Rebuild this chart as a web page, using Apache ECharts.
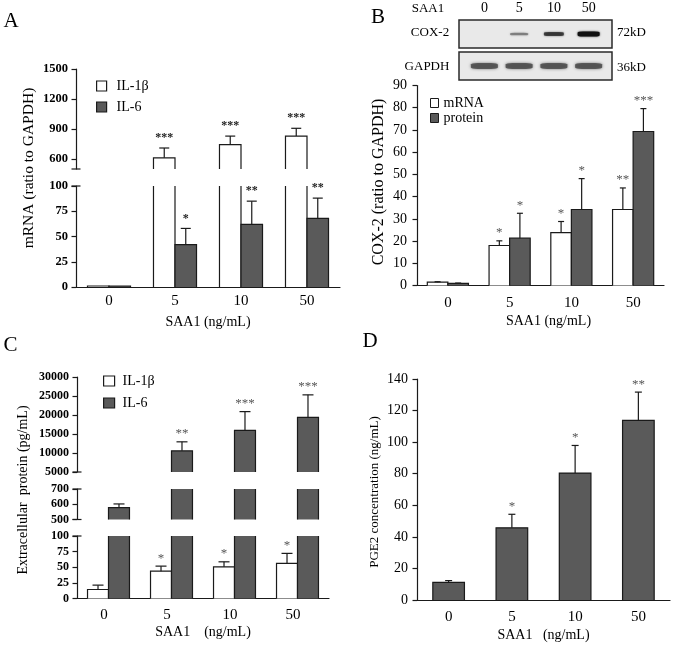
<!DOCTYPE html>
<html><head><meta charset="utf-8">
<script src="https://cdn.jsdelivr.net/npm/echarts@6/dist/echarts.min.js"></script>
<style>html,body{margin:0;padding:0;background:#fff}#c{width:675px;height:645px}</style>
</head><body><div id="c"></div>
<script>
// ---------- data ----------
const categories = ['0', '5', '10', '50'];
// Panel A: mRNA (ratio to GAPDH)
const aIL1b = [1, 612, 743, 829];
const aIL1bSD = [0, 98, 86, 78];
const aIL1bSig = ['', '***', '***', '***'];
const aIL6 = [1, 42, 62, 68];
const aIL6SD = [0, 16, 23, 20];
const aIL6Sig = ['', '*', '**', '**'];
// Panel B: COX-2 (ratio to GAPDH)
const bMRNA = [1.5, 18, 23.8, 34.2];
const bMRNASD = [0.2, 2.1, 5, 9.7];
const bMRNASig = ['', '*', '*', '**'];
const bProtein = [1.0, 21.3, 34.2, 69.3];
const bProteinSD = [0.1, 11.2, 13.9, 10.3];
const bProteinSig = ['', '*', '*', '***'];
// Western blot band intensities
const cox2Band = [0, 0.35, 0.65, 1];
const gapdhBand = [0.85, 0.85, 0.85, 0.85];
// Panel C: extracellular protein (pg/mL)
const cIL1b = [14.4, 43.8, 50.7, 56.2];
const cIL1bSD = [7, 8, 8, 16];
const cIL1bSig = ['', '*', '*', '*'];
const cIL6 = [578, 10560, 15960, 19400];
const cIL6SD = [24, 2380, 4930, 5900];
const cIL6Sig = ['', '**', '***', '***'];
// Panel D: PGE2 concentration (ng/mL)
const dPGE2 = [11.2, 45.7, 80.4, 113.8];
const dPGE2SD = [1.1, 8.6, 17.5, 17.9];
const dPGE2Sig = ['', '*', '*', '**'];
// axis ticks
const aUpperTicks = [600, 900, 1200, 1500];

// ---------- style ----------
const FONT = "'Liberation Serif','Times New Roman',serif";
const WHITE = '#ffffff', DARK = '#5a5a5a', LINE = '#1a1a1a';

function makeBars(o) {
  return {
    type: 'custom', name: o.name, xAxisIndex: o.xi, yAxisIndex: o.yi,
    itemStyle: { color: o.fill, borderColor: LINE, borderWidth: 1 },
    data: o.vals.map((v, i) => [i, v, o.sds[i]]),
    renderItem: function (params, api) {
      const i = api.value(0), v = api.value(1), sd = api.value(2);
      const band = api.size([1, 0])[0];
      const bw = band * o.frac;
      const cx = api.coord([i, o.lo])[0];
      const xl = cx + (o.k - o.n / 2) * bw;
      const xc = xl + bw / 2;
      const ch = [];
      if (v > o.lo || o.lo === 0) {
        const vt = Math.min(v, o.hi);
        const yb = api.coord([i, o.lo])[1];
        const yt = api.coord([i, vt])[1];
        const st = { stroke: LINE, lineWidth: 1.2, fill: null };
        ch.push({ type: 'rect', shape: { x: xl, y: yt, width: bw, height: yb - yt }, style: { fill: o.fill } });
        if (v <= o.hi) {
          ch.push({ type: 'polyline', shape: { points: [[xl, yb], [xl, yt], [xl + bw, yt], [xl + bw, yb]] }, style: st });
        } else {
          ch.push({ type: 'line', shape: { x1: xl, y1: yb, x2: xl, y2: yt }, style: st });
          ch.push({ type: 'line', shape: { x1: xl + bw, y1: yb, x2: xl + bw, y2: yt }, style: st });
        }
        if (v <= o.hi && v >= o.lo && sd > 0) {
          const ye = api.coord([i, Math.min(v + sd, o.hi)])[1];
          ch.push({ type: 'line', shape: { x1: xc, y1: yt, x2: xc, y2: ye }, style: st });
          ch.push({ type: 'line', shape: { x1: xc - o.capW / 2, y1: ye, x2: xc + o.capW / 2, y2: ye }, style: st });
          if (o.sigs[i]) {
            ch.push({ type: 'text', x: xc, y: ye - o.starGap,
              style: { text: o.sigs[i], font: o.starFont, fill: o.starColor, align: 'center', verticalAlign: 'middle' } });
          }
        }
      }
      return { type: 'group', children: ch };
    }
  };
}

function makeBreaks(xi, yi, vals) {
  return {
    type: 'custom', xAxisIndex: xi, yAxisIndex: yi, silent: true,
    data: vals.map(v => [0, v]),
    renderItem: function (params, api) {
      const band = api.size([1, 0])[0];
      const p = api.coord([0, api.value(1)]);
      const x = p[0] - band / 2;
      return { type: 'line', shape: { x1: x - 4.5, y1: p[1], x2: x + 4.5, y2: p[1] }, style: { stroke: LINE, lineWidth: 1.2 } };
    }
  };
}

function xAx(gi, opts) {
  const o = Object.assign({ show: true, labels: true, margin: 8, name: '', nameGap: 28, pad: 0, labelPad: 0 }, opts || {});
  return {
    type: 'category', gridIndex: gi, data: categories, show: o.show,
    axisLine: { show: true, onZero: false, lineStyle: { color: LINE, width: 1.2 } },
    axisTick: { show: false },
    axisLabel: { show: o.labels, margin: o.margin, fontFamily: FONT, fontSize: 15, color: '#000', padding: o.labelPad },
    name: o.name, nameLocation: 'middle', nameGap: o.nameGap,
    nameTextStyle: { fontFamily: FONT, fontSize: 14, color: '#000', padding: o.pad }
  };
}
function yAx(gi, min, max, interval, o) {
  o = Object.assign({ bold: false, size: 14, margin: 9, custom: null }, o || {});
  const ax = {
    type: 'value', gridIndex: gi, min: min, max: max,
    axisLine: { show: true, lineStyle: { color: LINE, width: 1.2 } },
    axisTick: { show: true, length: 4.5, lineStyle: { color: LINE, width: 1.2 } },
    splitLine: { show: false },
    axisLabel: { margin: o.margin, fontFamily: FONT, fontSize: o.size, fontWeight: o.bold ? 'bold' : 'normal', color: '#000',
      formatter: function (v) { return String(v); } }
  };
  if (o.custom) {
    ax.axisLabel.customValues = o.custom;
    ax.axisTick.customValues = o.custom;
  } else {
    ax.interval = interval;
  }
  return ax;
}

const grids = [
  { left: 76, top: 69, width: 264, height: 100 },      // 0 A upper
  { left: 76, top: 186, width: 264, height: 101 },     // 1 A lower
  { left: 417, top: 85.5, width: 247, height: 200 },   // 2 B
  { left: 467, top: 20, width: 139, height: 28 },      // 3 blot COX-2
  { left: 467, top: 52, width: 139, height: 28 },      // 4 blot GAPDH
  { left: 77, top: 377, width: 252, height: 95 },      // 5 C top
  { left: 77, top: 489, width: 252, height: 30.5 },    // 6 C middle
  { left: 77, top: 536, width: 252, height: 62.5 },    // 7 C bottom
  { left: 417, top: 379, width: 253, height: 221 }     // 8 D
];

const xAxes = [
  xAx(0, { show: true, labels: false }),
  xAx(1, { margin: 7, name: 'SAA1 (ng/mL)', nameGap: 28 }),
  xAx(2, { margin: 10, name: 'SAA1 (ng/mL)', nameGap: 29, pad: [0, 0, 0, 16] }),
  { type: 'category', gridIndex: 3, data: categories, position: 'top',
    axisLine: { show: false }, axisTick: { show: false },
    axisLabel: { margin: 5, fontFamily: FONT, fontSize: 14, color: '#000' } },
  { type: 'category', gridIndex: 4, data: categories, show: false },
  xAx(5, { show: true, labels: false }),
  xAx(6, { show: true, labels: false }),
  xAx(7, { margin: 9, name: 'SAA1    (ng/mL)', nameGap: 27, labelPad: [0, 9, 0, 0] }),
  xAx(8, { margin: 10, name: 'SAA1   (ng/mL)', nameGap: 28 })
];
xAxes[0].axisLine.show = false; xAxes[5].axisLine.show = false; xAxes[6].axisLine.show = false;

const yAxes = [
  yAx(0, 500, 1500, null, { bold: true, size: 12.5, margin: 8, custom: aUpperTicks }),
  yAx(1, 0, 100, 25, { bold: true, size: 12.5, margin: 8 }),
  yAx(2, 0, 90, 10, { size: 14, margin: 10 }),
  { type: 'value', gridIndex: 3, min: -1, max: 1, show: false },
  { type: 'value', gridIndex: 4, min: -1, max: 1, show: false },
  yAx(5, 5000, 30000, 5000, { bold: true, size: 12, margin: 8 }),
  yAx(6, 500, 700, 100, { bold: true, size: 12, margin: 8 }),
  yAx(7, 0, 100, 25, { bold: true, size: 12, margin: 8 }),
  yAx(8, 0, 140, 20, { size: 14, margin: 9 })
];

const starA = { starFont: 'bold 12px ' + FONT, starColor: '#222', starGap: 10 };
const starB = { starFont: '13px ' + FONT, starColor: '#555', starGap: 8 };

const series = [
  // A
  makeBars(Object.assign({ name: 'IL-1β', xi: 0, yi: 0, vals: aIL1b, sds: aIL1bSD, sigs: aIL1bSig, k: 0, n: 2, frac: 0.326, lo: 500, hi: 1500, fill: WHITE, capW: 10 }, starA)),
  makeBars(Object.assign({ name: 'IL-6', xi: 0, yi: 0, vals: aIL6, sds: aIL6SD, sigs: aIL6Sig, k: 1, n: 2, frac: 0.326, lo: 500, hi: 1500, fill: DARK, capW: 10 }, starA)),
  makeBars(Object.assign({ name: 'IL-1β', xi: 1, yi: 1, vals: aIL1b, sds: aIL1bSD, sigs: aIL1bSig, k: 0, n: 2, frac: 0.326, lo: 0, hi: 100, fill: WHITE, capW: 10 }, starA)),
  makeBars(Object.assign({ name: 'IL-6', xi: 1, yi: 1, vals: aIL6, sds: aIL6SD, sigs: aIL6Sig, k: 1, n: 2, frac: 0.326, lo: 0, hi: 100, fill: DARK, capW: 10 }, starA)),
  makeBreaks(0, 0, [500]),
  makeBreaks(1, 1, [100]),
  // B
  makeBars(Object.assign({ name: 'mRNA', xi: 2, yi: 2, vals: bMRNA, sds: bMRNASD, sigs: bMRNASig, k: 0, n: 2, frac: 0.333, lo: 0, hi: 90, fill: WHITE, capW: 6 }, starB)),
  makeBars(Object.assign({ name: 'protein', xi: 2, yi: 2, vals: bProtein, sds: bProteinSD, sigs: bProteinSig, k: 1, n: 2, frac: 0.333, lo: 0, hi: 90, fill: DARK, capW: 6 }, starB)),
  // blot
  { type: 'scatter', xAxisIndex: 3, yAxisIndex: 3, silent: true, z: 5,
    data: cox2Band.map((a, i) => ({ value: [i, 0], symbolSize: [16 + 6 * a, 1.5 + 3.5 * a], itemStyle: { opacity: a } })),
    symbol: 'roundRect', itemStyle: { color: '#111', shadowBlur: 2, shadowColor: '#333' } },
  { type: 'scatter', xAxisIndex: 4, yAxisIndex: 4, silent: true, z: 5,
    data: gapdhBand.map((a, i) => ({ value: [i, 0], symbolSize: [27, 6], itemStyle: { opacity: a } })),
    symbol: 'roundRect', itemStyle: { color: '#4a4a4a', shadowBlur: 3, shadowColor: '#666' } },
  // C
  makeBars(Object.assign({ name: 'IL-1β', xi: 5, yi: 5, vals: cIL1b, sds: cIL1bSD, sigs: cIL1bSig, k: 0, n: 2, frac: 0.333, lo: 5000, hi: 30000, fill: WHITE, capW: 11 }, starB)),
  makeBars(Object.assign({ name: 'IL-6', xi: 5, yi: 5, vals: cIL6, sds: cIL6SD, sigs: cIL6Sig, k: 1, n: 2, frac: 0.333, lo: 5000, hi: 30000, fill: DARK, capW: 11 }, starB)),
  makeBars(Object.assign({ name: 'IL-1β', xi: 6, yi: 6, vals: cIL1b, sds: cIL1bSD, sigs: cIL1bSig, k: 0, n: 2, frac: 0.333, lo: 500, hi: 700, fill: WHITE, capW: 11 }, starB)),
  makeBars(Object.assign({ name: 'IL-6', xi: 6, yi: 6, vals: cIL6, sds: cIL6SD, sigs: cIL6Sig, k: 1, n: 2, frac: 0.333, lo: 500, hi: 700, fill: DARK, capW: 11 }, starB)),
  makeBars(Object.assign({ name: 'IL-1β', xi: 7, yi: 7, vals: cIL1b, sds: cIL1bSD, sigs: cIL1bSig, k: 0, n: 2, frac: 0.333, lo: 0, hi: 100, fill: WHITE, capW: 11 }, starB)),
  makeBars(Object.assign({ name: 'IL-6', xi: 7, yi: 7, vals: cIL6, sds: cIL6SD, sigs: cIL6Sig, k: 1, n: 2, frac: 0.333, lo: 0, hi: 100, fill: DARK, capW: 11 }, starB)),
  makeBreaks(5, 5, [5000]),
  makeBreaks(6, 6, [500, 700]),
  makeBreaks(7, 7, [100]),
  // D
  makeBars(Object.assign({ name: 'PGE2', xi: 8, yi: 8, vals: dPGE2, sds: dPGE2SD, sigs: dPGE2Sig, k: 0, n: 1, frac: 0.5, lo: 0, hi: 140, fill: DARK, capW: 7 }, starB))
];

const legTxt = { fontFamily: FONT, fontSize: 14, color: '#000', padding: [0, 0, 0, 5] };
const legends = [
  { left: 96, top: 79, orient: 'vertical', padding: 0, itemWidth: 10, itemHeight: 10, itemGap: 7, selectedMode: false,
    textStyle: legTxt, icon: 'rect',
    data: [{ name: 'IL-1β', itemStyle: { color: WHITE, borderColor: LINE, borderWidth: 1.2 } },
           { name: 'IL-6', itemStyle: { color: DARK, borderColor: LINE, borderWidth: 1.2 } }] },
  { left: 430, top: 96, orient: 'vertical', padding: 0, itemWidth: 8, itemHeight: 9, itemGap: 1, selectedMode: false,
    textStyle: { fontFamily: FONT, fontSize: 14, color: '#000', lineHeight: 12 }, icon: 'rect',
    data: [{ name: 'mRNA', itemStyle: { color: WHITE, borderColor: LINE, borderWidth: 1 } },
           { name: 'protein', itemStyle: { color: DARK, borderColor: LINE, borderWidth: 1 } }] },
  { left: 103, top: 374, orient: 'vertical', padding: 0, itemWidth: 11, itemHeight: 10, itemGap: 8, selectedMode: false,
    textStyle: { fontFamily: FONT, fontSize: 14, color: '#000', padding: [0, 0, 0, 3] }, icon: 'rect',
    data: [{ name: 'IL-1β', itemStyle: { color: WHITE, borderColor: LINE, borderWidth: 1.2 } },
           { name: 'IL-6', itemStyle: { color: DARK, borderColor: LINE, borderWidth: 1.2 } }] }
];

function txt(t, x, y, size, opt) {
  opt = opt || {};
  return { type: 'text', x: x, y: y, rotation: opt.rot || 0, z: 10,
    style: { text: t, font: (opt.weight || 'normal') + ' ' + size + 'px ' + FONT, fill: '#000',
      align: opt.align || 'center', verticalAlign: 'middle' } };
}
const R = Math.PI / 2;
const graphic = [
  txt('A', 11, 21, 21), txt('B', 378, 17, 21), txt('C', 10.5, 345.5, 21), txt('D', 370, 341, 21),
  txt('mRNA (ratio to GAPDH)', 29, 168, 15.5, { rot: R }),
  txt('COX-2 (ratio to GAPDH)', 379, 182, 16, { rot: R }),
  txt('Extracellular  protein (pg/mL)', 23, 490, 14, { rot: R }),
  txt('PGE2 concentration (ng/mL)', 375, 492, 13, { rot: R }),
  { type: 'rect', z: 0, shape: { x: 459, y: 20, width: 153, height: 28 }, style: { fill: '#e9e9e9', stroke: '#2a2a2a', lineWidth: 1.5 } },
  { type: 'rect', z: 0, shape: { x: 459, y: 52, width: 153, height: 28 }, style: { fill: '#e9e9e9', stroke: '#2a2a2a', lineWidth: 1.5 } },
  txt('SAA1', 428, 9, 13), txt('COX-2', 430, 33, 13), txt('GAPDH', 427, 67, 13),
  txt('72kD', 617, 33, 13, { align: 'left' }), txt('36kD', 617, 68, 13, { align: 'left' })
];

const chart = echarts.init(document.getElementById('c'), null, { renderer: 'canvas' });
chart.setOption({
  animation: false,
  backgroundColor: '#fff',
  grid: grids,
  xAxis: xAxes,
  yAxis: yAxes,
  legend: legends,
  graphic: graphic,
  series: series
});
</script>
</body></html>
